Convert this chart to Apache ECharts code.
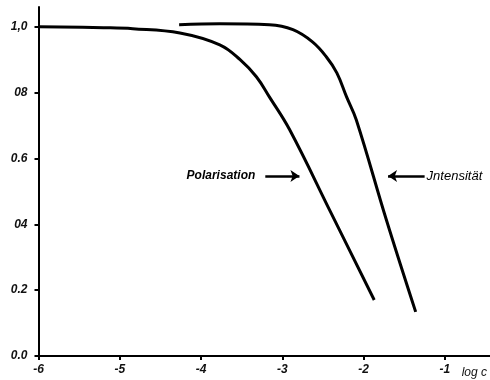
<!DOCTYPE html>
<html>
<head>
<meta charset="utf-8">
<script src="https://cdn.jsdelivr.net/npm/echarts@6/dist/echarts.min.js"></script>
<style>
html,body{margin:0;padding:0;background:#fff;}
#chart{width:490px;height:380px;}
</style>
</head>
<body>
<div id="chart"></div>
<script>
// Polarisation / Intensität gegen log c
var polarisation = [
    [-6.00, 1.000], [-5.20, 0.997], [-4.84, 0.994], [-4.26, 0.981],
    [-3.77, 0.945], [-3.52, 0.900], [-3.32, 0.848], [-3.16, 0.787],
    [-2.91, 0.687], [-2.40, 0.434], [-1.87, 0.170]
];
var intensitaet = [
    [-4.27, 1.006], [-3.77, 1.009], [-3.16, 1.006], [-2.87, 0.991],
    [-2.63, 0.954], [-2.46, 0.909], [-2.33, 0.860], [-2.21, 0.787],
    [-2.09, 0.717], [-1.72, 0.413], [-1.36, 0.134]
];
var xTicks = [-6, -5, -4, -3, -2, -1];
var yTicks = [0, 0.2, 0.4, 0.6, 0.8, 1.0];
var yTickLabels = ['0.0', '0.2', '04', '0.6', '08', '1,0'];
// Pfeile: [von, nach] in Datenkoordinaten
var polArrow = [[-3.21, 0.547], [-2.79, 0.547]];
var intArrow = [[-1.25, 0.547], [-1.70, 0.547]];

var fnt = '"Liberation Sans Narrow", "Liberation Sans", sans-serif';

var chart = echarts.init(document.getElementById('chart'));
var option = {
    animation: false,
    backgroundColor: '#fff',
    grid: {left: 38.5, right: 0, top: 7, bottom: 24, containLabel: false},
    xAxis: {
        type: 'value', min: -6, max: -0.45, interval: 1,
        name: 'log c', nameLocation: 'end', nameGap: -28,
        nameTextStyle: {fontFamily: fnt, fontStyle: 'italic', fontSize: 12, color: '#111',
            align: 'left', verticalAlign: 'top', padding: [11, 0, 0, 0]},
        axisLine: {onZero: false, lineStyle: {color: '#000', width: 2}},
        axisTick: {show: true, length: 4, customValues: xTicks, lineStyle: {color: '#000', width: 2}},
        axisLabel: {customValues: xTicks, margin: 8, fontFamily: fnt, fontStyle: 'italic',
            fontWeight: 'bold', fontSize: 12, color: '#111'},
        splitLine: {show: false}
    },
    yAxis: {
        type: 'value', min: 0, max: 1.06, interval: 0.2,
        axisLine: {show: true, onZero: false, lineStyle: {color: '#000', width: 2}},
        axisTick: {show: true, length: 4, customValues: yTicks, lineStyle: {color: '#000', width: 2}},
        axisLabel: {customValues: yTicks, margin: 11, fontFamily: fnt, fontStyle: 'italic',
            fontWeight: 'bold', fontSize: 12, color: '#111',
            formatter: function (v) {
                var i = yTicks.indexOf(Math.round(v * 10) / 10);
                return i >= 0 ? yTickLabels[i] : '';
            }},
        splitLine: {show: false}
    },
    series: [
        {
            name: 'Polarisation', type: 'line', data: polarisation,
            smooth: 0.4,
            symbol: 'none', lineStyle: {color: '#000', width: 3},
            markLine: {
                silent: true, symbol: ['none', 'arrow'], symbolSize: [9, 9],
                lineStyle: {color: '#000', width: 2.5, type: 'solid'},
                label: {show: true, position: 'start', distance: 10, formatter: 'Polarisation',
                    fontFamily: fnt, fontStyle: 'italic', fontWeight: 'bold', fontSize: 12, color: '#000'},
                data: [[{coord: polArrow[0]}, {coord: polArrow[1]}]]
            }
        },
        {
            name: 'Intensität', type: 'line', data: intensitaet,
            smooth: 0.4,
            symbol: 'none', lineStyle: {color: '#000', width: 3},
            markLine: {
                silent: true, symbol: ['none', 'arrow'], symbolSize: [9, 9],
                lineStyle: {color: '#000', width: 2.5, type: 'solid'},
                label: {show: true, position: 'start', distance: 2, formatter: 'Jntensität',
                    fontFamily: fnt, fontStyle: 'italic', fontSize: 13, color: '#000'},
                data: [[{coord: intArrow[0]}, {coord: intArrow[1]}]]
            }
        }
    ]
};
chart.setOption(option);
</script>
</body>
</html>
